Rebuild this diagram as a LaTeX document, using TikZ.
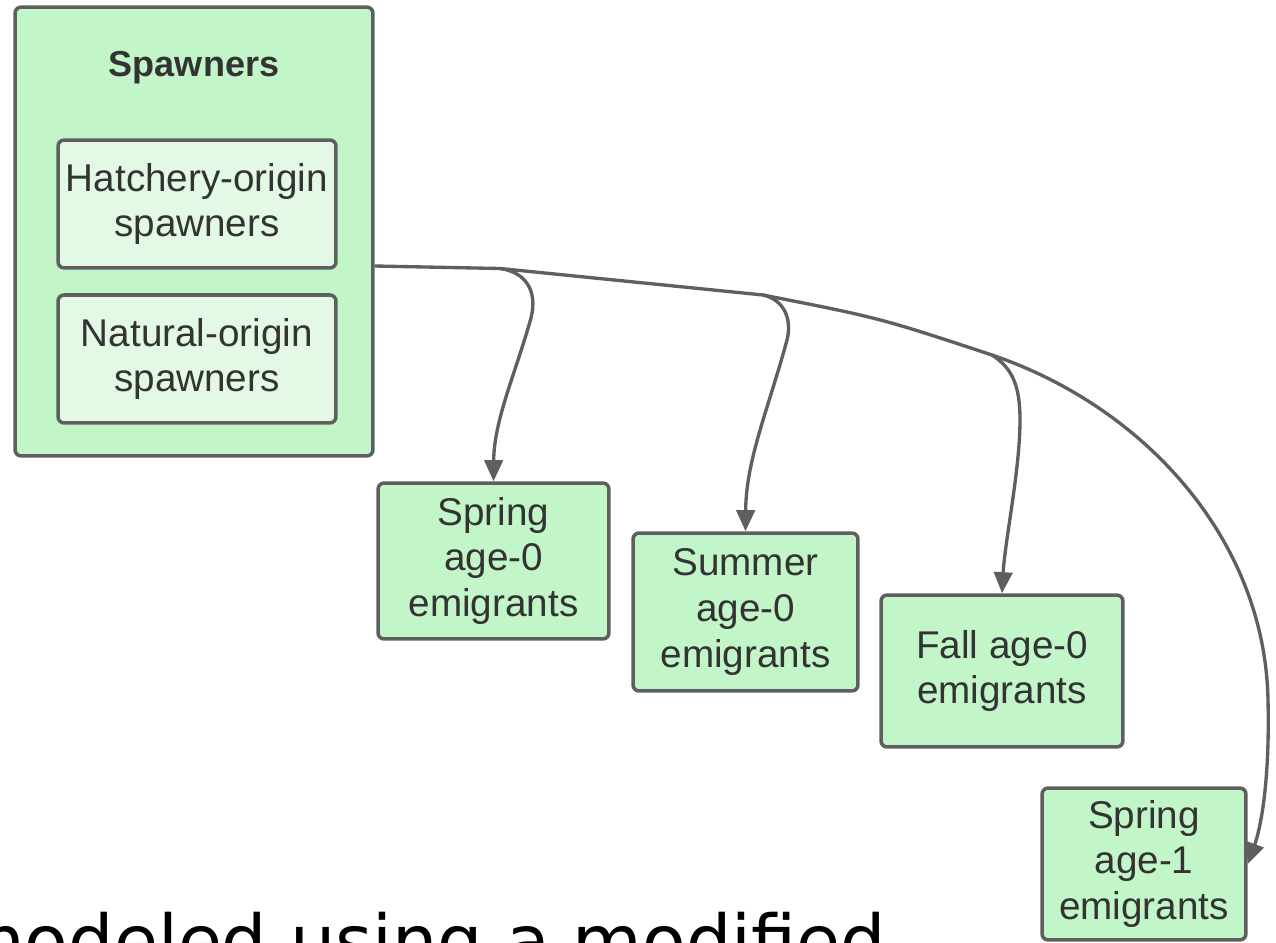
\documentclass[tikz,border=0pt]{standalone}
\usepackage{fontspec}
\setmainfont{Liberation Sans}
\newfontfamily\notefont{DejaVu Sans}
\usepackage{tikz}
\usetikzlibrary{arrows.meta,positioning,calc}

\definecolor{boxgreen}{HTML}{C2F5C8}
\definecolor{innergreen}{HTML}{E3F9E5}
\definecolor{edgegray}{HTML}{5F5F5F}
\definecolor{textgray}{HTML}{333333}

\begin{document}
\begin{tikzpicture}[x=0.02cm, y=-0.02cm,
    stage/.style={draw=edgegray, fill=boxgreen, line width=2pt, rounded corners=3.5pt, text=textgray, align=center, inner sep=0pt, font=\fontsize{22}{26}\selectfont},
    origin/.style={stage, fill=innergreen},
    flow/.style={draw=edgegray, line width=1.9pt, line join=round, -{Triangle[length=12pt,width=10.5pt]}}]
    % Frame
    \useasboundingbox (0,0) rectangle (1276,943);
    \fill[white] (0,0) rectangle (1276,943);

    % Spawners group
    \node[stage, minimum width=7.16cm, minimum height=8.98cm] (spawn) at (194,231.5) {};
    \node[font=\bfseries\fontsize{20.5}{24}\selectfont, text=textgray] (spawntitle) at (194,68) {Spawners};
    \node[origin, minimum width=5.56cm, minimum height=2.56cm] (hatch) at (197,204) {Hatchery-origin\\spawners};
    \node[origin, minimum width=5.56cm, minimum height=2.56cm, below=0.47cm of hatch] (natural) {Natural-origin\\spawners};

    % Emigrant stages
    \node[stage, minimum width=4.62cm, minimum height=3.12cm] (spr0) at (493.5,561) {Spring\\age-0\\emigrants};
    \node[stage, minimum width=4.5cm, minimum height=3.16cm] (sum0) at (745.5,612) {Summer\\age-0\\emigrants};
    \node[stage, minimum width=4.84cm, minimum height=3.04cm] (fall0) at (1002,671) {Fall age-0\\emigrants};
    \node[stage, minimum width=4.08cm, minimum height=3.04cm] (spr1) at (1144,864) {Spring\\age-1\\emigrants};

    % Branch points on the main connector
    \coordinate (src) at (spawn.east |- 0,266);
    \coordinate (j1) at (500,268.5);
    \coordinate (j2) at (763,295);
    \coordinate (j3) at (992,355);

    % Connectors
    \draw[flow] (src) -- (j1) -- (j2) .. controls (880,318) .. (j3) .. controls (1145,407) and (1265,540) .. (1268,700) .. controls (1270,785) and (1260,830) .. (spr1.east);
    \draw[flow] (j1) .. controls (525,272) and (538,290) .. (531,318) .. controls (515,375) and (494,420) .. (spr0.north);
    \draw[flow] (j2) .. controls (785,300) and (792,320) .. (787,340) .. controls (768,410) and (746,460) .. (sum0.north);
    \draw[flow] (j3) .. controls (1012,368) and (1020,385) .. (1020,420) .. controls (1020,470) and (1005,540) .. (fall0.north);

    % Caption fragment cut by the frame
    \node[anchor=base east, inner sep=0pt, font=\notefont\fontsize{40.7}{48}\selectfont] (note) at (886,966) {modeled using a modified};
\end{tikzpicture}
\end{document}
